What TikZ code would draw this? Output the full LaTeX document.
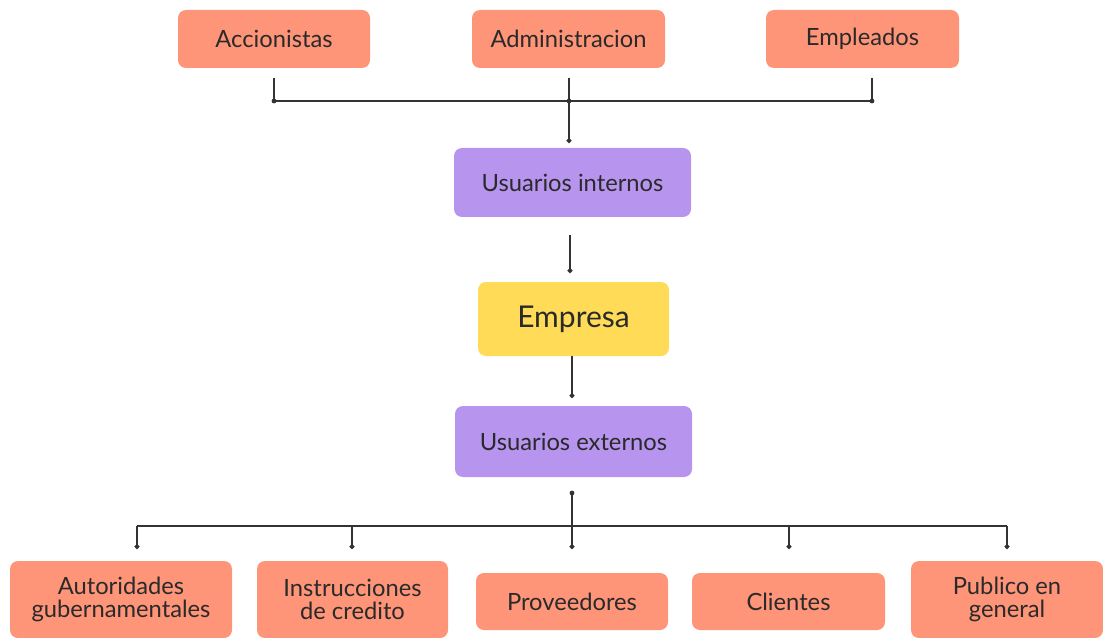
\documentclass[tikz,border=0pt]{standalone}
\usepackage{fontspec}
\setmainfont{Lato}
\usetikzlibrary{arrows.meta}
\definecolor{salmon}{HTML}{FE9478}
\definecolor{lilac}{HTML}{B794EE}
\definecolor{gold}{HTML}{FFDB58}
\definecolor{ink}{HTML}{2A2A2A}
\definecolor{wire}{HTML}{333333}
\tikzset{
  sz/.style 2 args={minimum width=#1*0.75pt, minimum height=#2*0.75pt},
  box/.style={rounded corners=6pt, draw=none, text=ink, align=center, inner sep=0pt, font=\fontsize{17.8}{17.3}\selectfont},
  sbox/.style={box, fill=salmon},
  pbox/.style={box, fill=lilac},
  ybox/.style={box, fill=gold, font=\fontsize{22.5}{24}\selectfont},
  wireline/.style={draw=wire, line width=1pt},
  dotline/.style={wireline, -{Circle[length=3.6pt]}},
  junc/.style={circle, fill=wire, inner sep=0pt, minimum size=3.6pt},
}
\begin{document}
\begin{tikzpicture}[x=0.75pt,y=-0.75pt]
\useasboundingbox (0,0) rectangle (1103,638);
% top row
\node[sbox, sz={192}{58}] (acc) at (274,39) {Accionistas};
\node[sbox, sz={193}{58}] (adm) at (568.5,39) {Administracion};
\node[sbox, sz={193}{58}] (emp) at (862.5,39) {Empleados};
% middle column
\node[pbox, sz={237}{69}] (ui) at (572.5,182.5) {Usuarios internos};
\node[ybox, sz={191}{74}] (empresa) at (573.5,319) {Empresa};
\node[pbox, sz={237}{71}] (ue) at (573.5,441.5) {Usuarios externos};
% bottom row
\node[sbox, sz={222}{77}] (aut) at (121,599.5) {Autoridades\\gubernamentales};
\node[sbox, sz={191}{77}] (ins) at (352.5,599.5) {Instrucciones\\de credito};
\node[sbox, sz={192}{57}] (pro) at (572,601.5) {Proveedores};
\node[sbox, sz={193}{57}] (cli) at (788.5,601.5) {Clientes};
\node[sbox, sz={192}{77}] (pub) at (1007,599.5) {Publico en\\general};
% connector points (top)
\coordinate (accS) at (274,78);
\coordinate (admS) at (569,78);
\coordinate (empS) at (872,78);
\coordinate (accB) at (274,101);
\coordinate (admB) at (569,101);
\coordinate (empB) at (872,101);
\coordinate (uiT) at (569,143);
\draw[wireline] (accS) -- (accB);
\draw[wireline] (admS) -- (admB);
\draw[wireline] (empS) -- (empB);
\draw[wireline] (accB) -- (empB);
\node[junc] (j1) at (accB) {};
\node[junc] (j2) at (admB) {};
\node[junc] (j3) at (empB) {};
\draw[dotline] (j2.center) -- (uiT);
% middle
\coordinate (uiS) at (570,235);
\coordinate (empT) at (570,273);
\draw[dotline] (uiS) -- (empT);
\coordinate (empBot) at (572,356);
\coordinate (ueT) at (572,398);
\draw[dotline] (empBot) -- (ueT);
% bottom
\node[junc] (ueS) at (572,493) {};
\coordinate (busM) at (572,526);
\coordinate (busL) at (137,526);
\coordinate (busR) at (1007,526);
\draw[wireline] (ueS.center) -- (busM);
\draw[wireline] (busL) -- (busR);
\coordinate (autT) at (137,549);
\coordinate (insB) at (352,526);
\coordinate (insT) at (352,549);
\coordinate (proT) at (572,549);
\coordinate (cliB) at (789,526);
\coordinate (cliT) at (789,549);
\coordinate (pubT) at (1007,549);
\draw[dotline] (busL) -- (autT);
\draw[dotline] (insB) -- (insT);
\draw[dotline] (busM) -- (proT);
\draw[dotline] (cliB) -- (cliT);
\draw[dotline] (busR) -- (pubT);
\end{tikzpicture}
\end{document}
